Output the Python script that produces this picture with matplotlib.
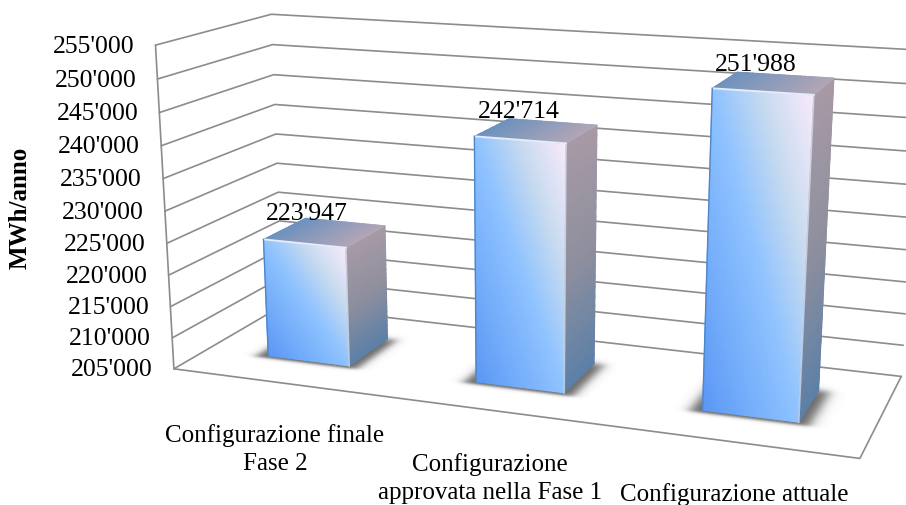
#!/usr/bin/env python3
"""3D column chart of yearly energy per plant configuration."""

import numpy as np
import matplotlib
matplotlib.use("Agg")
import matplotlib.pyplot as plt
from matplotlib.colors import LinearSegmentedColormap

plt.rcParams.update({"font.family": "Liberation Serif", "font.size": 18.5})

categories = ["Configurazione finale\nFase 2",
              "Configurazione\napprovata nella Fase 1",
              "Configurazione attuale"]
values = [223947, 242714, 251988]
ticks = list(range(205000, 255001, 5000))
ylabel = "MWh/anno"
vmin, vmax = ticks[0], ticks[-1]

# camera: box points (x, depth, height) and where they land on the canvas
BOX = np.array([[0, 0, 0], [1, 0, 0], [1, 1, 0], [0, 1, 0],
                [0, 0, 1], [0, 1, 1], [1, 1, 1],
                [.766, .3, .94], [.9, .3, .94], [.9, .7, .94],
                [.435, .3, .754], [.567, .3, .754],
                [.766, .3, 0], [.9, .3, 0], [.435, .3, 0], [.567, .3, 0]], float)
CANVAS = np.array([[174, 369], [860, 459], [900, 375], [282, 306],
                   [156, 44], [272, 14], [925, 50],
                   [712, 88], [813, 94], [831, 80],
                   [475, 137], [565, 144],
                   [703, 409], [800, 423], [477, 383], [565, 392]], float)


def fit_camera(world, image):
    rows, rhs = [], []
    for (x, y, z), (u, v) in zip(world, image):
        rows.append([x, y, z, 1, 0, 0, 0, 0, -u * x, -u * y, -u * z])
        rows.append([0, 0, 0, 0, x, y, z, 1, -v * x, -v * y, -v * z])
        rhs += [u, v]
    p = np.linalg.lstsq(np.array(rows), np.array(rhs), rcond=None)[0]
    return np.append(p, 1.0).reshape(3, 4)


CAM = fit_camera(BOX, CANVAS)


def proj(x, y, z):
    x, y, z = np.broadcast_arrays(x, y, z)
    w = CAM[2, 0] * x + CAM[2, 1] * y + CAM[2, 2] * z + CAM[2, 3]
    u = (CAM[0, 0] * x + CAM[0, 1] * y + CAM[0, 2] * z + CAM[0, 3]) / w
    v = (CAM[1, 0] * x + CAM[1, 1] * y + CAM[1, 2] * z + CAM[1, 3]) / w
    return u, v


def height(v):
    return (v - vmin) / (vmax - vmin)


FRONT = LinearSegmentedColormap.from_list(
    "front", [(0, "#5a98f5"), (.5, "#8fc3ff"), (.75, "#c8dbf0"), (1, "#f9eafb")])
SIDE = LinearSegmentedColormap.from_list(
    "side", ["#5c80a8", "#8e8f9e", "#a89aa6"])
TOP = LinearSegmentedColormap.from_list("top", ["#6e92be", "#b3a6b6"])

fig = plt.figure(figsize=(9.06, 5.05), dpi=100)
ax = fig.add_axes([0, 0, 1, 1])
ax.set_xlim(0, 906)
ax.set_ylim(505, 0)
ax.axis("off")

GRID = dict(color="#8c8c8c", lw=1.2, solid_capstyle="round")

# ── walls and floor ──────────────────────────────────────────
for tick in ticks:
    z = height(tick)
    ax.plot(*proj([0, 0, 1], [0, 1, 1], z), **GRID)
    u, v = proj(0, 0, z)
    ax.text(u - 21, v + 1.5, f"{tick // 1000}'{tick % 1000:03d}",
            ha="right", va="center")
ax.plot(*proj([0, 0], [0, 0], [0, 1]), **GRID)
ax.plot(*proj([0, 1, 1], [0, 0, 1], 0), **GRID)

ax.text(20, 208, ylabel, rotation=90, ha="center", va="center",
        fontweight="bold", fontsize=18)


def face(xs, ys, zs, c, cmap):
    ax.pcolormesh(*proj(xs, ys, zs), c, cmap=cmap, vmin=0, vmax=1,
                  shading="gouraud", zorder=3)


def step(d, sigma):
    return 1 / (1 + np.exp(-d / sigma))


# bar footprint on the floor, in box units
BAR_W = 0.133
BAR_Y = (0.30, 0.70)
s, t = np.meshgrid(np.linspace(0, 1, 25), np.linspace(0, 1, 25))

# ── soft shadows, worked out on the floor plane ──────────────
px, py = np.meshgrid(np.arange(906) + .5, np.arange(505) + .5)
Hinv = np.linalg.inv(CAM[:, [0, 1, 3]])
w = Hinv[2, 0] * px + Hinv[2, 1] * py + Hinv[2, 2]
fx = (Hinv[0, 0] * px + Hinv[0, 1] * py + Hinv[0, 2]) / w
fy = (Hinv[1, 0] * px + Hinv[1, 1] * py + Hinv[1, 2]) / w
shade = np.zeros(px.shape)
for i in range(len(values)):
    xc = (i + 0.5) / 3
    shade += (step(fx - (xc - BAR_W / 2 - .016), .005)
              * step((xc + BAR_W / 2 + .016) - fx, .005)
              * step(fy - (BAR_Y[0] - .03), .010)
              * step(BAR_Y[1] - fy, .02))
rgba = np.zeros(px.shape + (4,))
rgba[..., :3] = 0.3
rgba[..., 3] = 0.85 * np.clip(shade, 0, 1)
ax.imshow(rgba, extent=(0, 906, 505, 0), aspect="auto", zorder=2,
          interpolation="bilinear")
ax.set_xlim(0, 906)
ax.set_ylim(505, 0)

# ── bars ─────────────────────────────────────────────────────
for i, val in enumerate(values):
    xc = (i + 0.5) / 3
    x0, x1 = xc - BAR_W / 2, xc + BAR_W / 2
    y0, y1 = BAR_Y
    z1 = height(val)

    face(x0 + s * (x1 - x0), y0 + 0 * s, t * z1, (s + t) / 2, FRONT)
    face(x1 + 0 * s, y0 + s * (y1 - y0), t * z1, t, SIDE)
    face(x0 + s * (x1 - x0), y0 + t * (y1 - y0), z1 + 0 * s, s, TOP)

    # lit and shaded edges
    ax.plot(*proj([x0, x1], y0, z1), color="#e4edfb", lw=1.4, zorder=4)
    ax.plot(*proj(x1, y0, [0, z1]), color="#dfe8f8", lw=1.2, alpha=0.7, zorder=4)
    ax.plot(*proj(x0, y0, [0, z1]), color="#4f86c6", lw=1.0, zorder=4)

    u, v = proj(xc, (y0 + y1) / 2, z1)
    ax.text(u - 18, v - 18.5, f"{val // 1000}'{val % 1000:03d}",
            ha="center", va="center", zorder=5)

# ── category labels ──────────────────────────────────────────
LABEL_XY = [(275, 449.5), (490, 478.5), (734, 495)]
for name, (u, v) in zip(categories, LABEL_XY):
    ax.text(u, v, name, ha="center", va="center", linespacing=1.4, fontsize=18)

fig.savefig("out.png", dpi=100)
